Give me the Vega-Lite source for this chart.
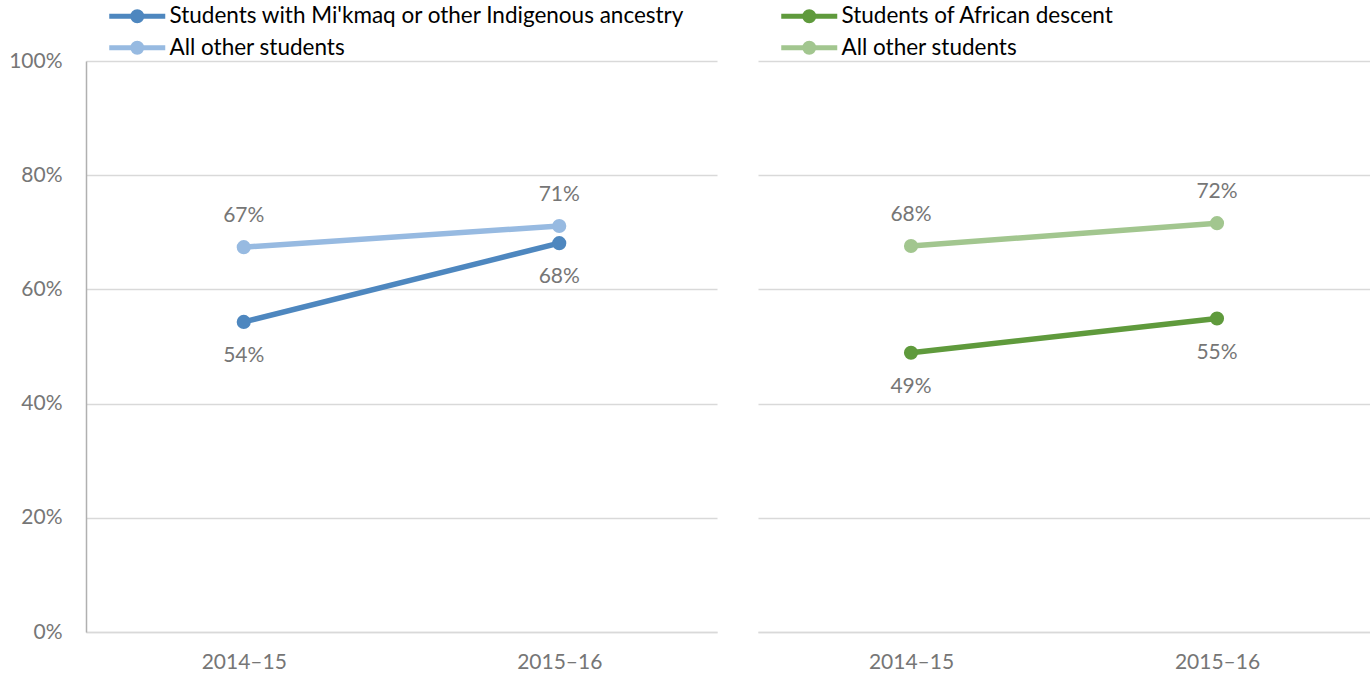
{
  "$schema": "https://vega.github.io/schema/vega-lite/v6.json",
  "padding": {"left": 8, "top": 5, "right": 0, "bottom": 0},
  "bounds": "flush",
  "spacing": 41,
  "background": "white",
  "config": {
    "view": {"stroke": null},
    "font": "Lato",
    "axis": {"labelFont": "Lato", "labelFontSize": 21, "labelColor": "#767676", "ticks": false, "title": null},
    "axisX": {"labelAngle": 0, "labelPadding": 19, "domainColor": "#D9D9D9", "domainWidth": 1.5, "grid": false},
    "axisY": {"gridColor": "#D9D9D9", "gridWidth": 1.5, "labelPadding": 24},
    "legend": {
      "orient": "none",
      "direction": "vertical",
      "symbolType": "M-28,0H28M-4.5,0A4.5,4.5 0 1,0 4.5,0A4.5,4.5 0 1,0 -4.5,0M-1.5,0A1.5,1.5 0 1,0 1.5,0A1.5,1.5 0 1,0 -1.5,0",
      "symbolSize": 4,
      "symbolStrokeWidth": 5,
      "symbolOpacity": 1,
      "labelFont": "Lato",
      "labelFontSize": 22.5,
      "labelColor": "#000000",
      "labelOffset": 21,
      "labelLimit": 0,
      "rowPadding": 1.5,
      "padding": 0
    }
  },
  "datasets": {
    "indig": [
      {"year": "2014–15", "series": "Students with Mi'kmaq or other Indigenous ancestry", "value": 0.543},
      {"year": "2015–16", "series": "Students with Mi'kmaq or other Indigenous ancestry", "value": 0.681},
      {"year": "2014–15", "series": "All other students", "value": 0.674},
      {"year": "2015–16", "series": "All other students", "value": 0.711}
    ],
    "african": [
      {"year": "2014–15", "series": "Students of African descent", "value": 0.489},
      {"year": "2015–16", "series": "Students of African descent", "value": 0.549},
      {"year": "2014–15", "series": "All other students", "value": 0.676},
      {"year": "2015–16", "series": "All other students", "value": 0.716}
    ]
  },
  "hconcat": [
    {
      "width": 631,
      "height": 571,
      "data": {"name": "indig"},
      "encoding": {
        "x": {"field": "year", "type": "ordinal", "scale": {"padding": 0.5}, "axis": {"title": null}},
        "y": {"field": "value", "type": "quantitative", "scale": {"domain": [0, 1]},
              "axis": {"title": null, "values": [0, 0.2, 0.4, 0.6, 0.8, 1], "format": ".0%", "domain": true, "domainColor": "#B0B0B0", "domainWidth": 1.5}}
      },
      "layer": [
        {
          "mark": {"type": "line", "strokeWidth": 5.5},
          "encoding": {"color": {"field": "series", "type": "nominal",
            "scale": {"domain": ["Students with Mi'kmaq or other Indigenous ancestry", "All other students"], "range": ["#4E87BF", "#97BAE1"]},
            "legend": {"title": null, "legendX": 40, "legendY": -56}}}
        },
        {
          "mark": {"type": "point", "filled": true, "size": 200, "opacity": 1},
          "encoding": {"color": {"field": "series", "type": "nominal",
            "scale": {"domain": ["Students with Mi'kmaq or other Indigenous ancestry", "All other students"], "range": ["#4E87BF", "#97BAE1"]},
            "legend": {"title": null, "legendX": 40, "legendY": -56}}}
        },
        {
          "transform": [{"filter": "datum.series === 'All other students'"}],
          "mark": {"type": "text", "dy": -31, "fontSize": 21, "color": "#767676", "font": "Lato"},
          "encoding": {"text": {"field": "value", "type": "quantitative", "format": ".0%"}}
        },
        {
          "transform": [{"filter": "datum.series !== 'All other students'"}],
          "mark": {"type": "text", "dy": 34, "fontSize": 21, "color": "#767676", "font": "Lato"},
          "encoding": {"text": {"field": "value", "type": "quantitative", "format": ".0%"}}
        }
      ]
    },
    {
      "width": 612,
      "height": 571,
      "data": {"name": "african"},
      "encoding": {
        "x": {"field": "year", "type": "ordinal", "scale": {"padding": 0.5}, "axis": {"title": null}},
        "y": {"field": "value", "type": "quantitative", "scale": {"domain": [0, 1]},
              "axis": {"title": null, "values": [0, 0.2, 0.4, 0.6, 0.8, 1], "labels": false, "domain": false}}
      },
      "layer": [
        {
          "mark": {"type": "line", "strokeWidth": 5.5},
          "encoding": {"color": {"field": "series", "type": "nominal",
            "scale": {"domain": ["Students of African descent", "All other students"], "range": ["#5F9A3C", "#A2C68F"]},
            "legend": {"title": null, "legendX": 40, "legendY": -56}}}
        },
        {
          "mark": {"type": "point", "filled": true, "size": 200, "opacity": 1},
          "encoding": {"color": {"field": "series", "type": "nominal",
            "scale": {"domain": ["Students of African descent", "All other students"], "range": ["#5F9A3C", "#A2C68F"]},
            "legend": {"title": null, "legendX": 40, "legendY": -56}}}
        },
        {
          "transform": [{"filter": "datum.series === 'All other students'"}],
          "mark": {"type": "text", "dy": -31, "fontSize": 21, "color": "#767676", "font": "Lato"},
          "encoding": {"text": {"field": "value", "type": "quantitative", "format": ".0%"}}
        },
        {
          "transform": [{"filter": "datum.series !== 'All other students'"}],
          "mark": {"type": "text", "dy": 34, "fontSize": 21, "color": "#767676", "font": "Lato"},
          "encoding": {"text": {"field": "value", "type": "quantitative", "format": ".0%"}}
        }
      ]
    }
  ],
  "resolve": {"scale": {"color": "independent"}}
}
